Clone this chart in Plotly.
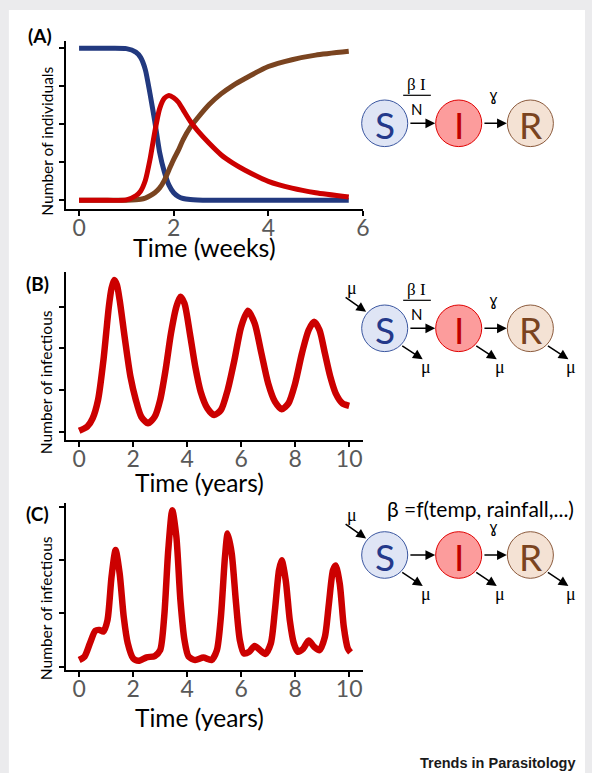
import plotly.graph_objects as go

W, H = 592, 773

# ---------------- data ----------------
a_time = [0, 0.5, 1.0, 1.2, 1.3, 1.4, 1.5, 1.6, 1.7, 1.8, 1.9, 2.0, 2.1, 2.2, 2.35, 2.5, 2.75,
          3.0, 3.25, 3.5, 4.0, 4.5, 5.0, 5.7]
a_susceptible = [1, 1, 0.998, 0.975, 0.94, 0.86, 0.70, 0.52, 0.32, 0.19, 0.10, 0.05, 0.025, 0.012,
                 0.005, 0.002, 0, 0, 0, 0, 0, 0, 0, 0]
a_infectious = [0, 0, 0.003, 0.03, 0.06, 0.13, 0.27, 0.45, 0.60, 0.67, 0.69, 0.675, 0.645, 0.595,
                0.52, 0.46, 0.375, 0.30, 0.245, 0.20, 0.125, 0.08, 0.05, 0.022]
a_recovered = [0, 0, 0, 0.003, 0.007, 0.015, 0.03, 0.05, 0.08, 0.13, 0.20, 0.27, 0.33, 0.40,
               0.48, 0.54, 0.63, 0.70, 0.755, 0.80, 0.88, 0.925, 0.955, 0.98]

b_time = [0, 0.3, 0.5, 0.7, 0.9, 1.0, 1.1, 1.2, 1.3, 1.4, 1.5, 1.7, 1.9, 2.1, 2.3, 2.55, 2.8,
          3.0, 3.2, 3.4, 3.6, 3.75, 3.9, 4.1, 4.3, 4.5, 4.75, 5.0, 5.25, 5.5, 5.75, 6.0, 6.25,
          6.5, 6.75, 7.0, 7.25, 7.5, 7.75, 8.0, 8.25, 8.5, 8.7, 8.9, 9.1, 9.3, 9.5, 9.75, 10.0]
b_infectious = [0.02, 0.12, 0.32, 0.76, 1.72, 2.36, 3.0, 3.44, 3.64, 3.52, 3.16, 2.2, 1.32, 0.76,
                0.36, 0.2, 0.36, 0.76, 1.48, 2.36, 3.0, 3.24, 3.08, 2.36, 1.56, 0.96, 0.56, 0.4,
                0.52, 1.0, 1.72, 2.52, 2.9, 2.6, 1.88, 1.16, 0.72, 0.54, 0.68, 1.16, 1.88, 2.44,
                2.64, 2.44, 1.88, 1.32, 0.92, 0.68, 0.62]

c_time = [0, 0.2, 0.4, 0.6, 0.75, 0.9, 1.05, 1.2, 1.35, 1.5, 1.65, 1.8, 2.0, 2.2, 2.5, 2.8,
          3.0, 3.15, 3.3, 3.45, 3.6, 3.75, 3.9, 4.05, 4.3, 4.6, 4.9, 5.1, 5.25, 5.4, 5.5, 5.65,
          5.8, 5.95, 6.1, 6.3, 6.5, 6.7, 6.9, 7.1, 7.25, 7.4, 7.5, 7.65, 7.8, 7.95, 8.1, 8.3,
          8.5, 8.7, 8.9, 9.1, 9.25, 9.4, 9.5, 9.65, 9.8, 9.95, 10.05]
c_infectious = [0.125, 0.19, 0.44, 0.675, 0.69, 0.66, 0.875, 1.69, 2.19, 1.75, 0.94, 0.44, 0.156,
                0.11, 0.175, 0.2, 0.31, 0.94, 2.19, 2.94, 2.44, 1.25, 0.5, 0.19, 0.125, 0.17,
                0.125, 0.31, 0.94, 2.06, 2.5, 2.125, 1.25, 0.5, 0.25, 0.28, 0.39, 0.31, 0.24, 0.44,
                1.06, 1.81, 2.0, 1.625, 0.875, 0.44, 0.28, 0.34, 0.49, 0.375, 0.31, 0.56, 1.19,
                1.81, 1.9, 1.56, 0.75, 0.34, 0.27]

a_xticks = [0, 2, 4, 6]
a_yticks = [0, 0.25, 0.5, 0.75, 1]
bc_xticks = [0, 2, 4, 6, 8, 10]
bc_yticks = [0, 1, 2, 3]

BLUE = "#22397f"
RED = "#cc0000"
BROWN = "#7a4420"
FONT = "Lato"


def X(px):
    return px / W


def Y(py):
    return 1 - py / H


fig = go.Figure()
fig.add_trace(go.Scatter(x=a_time, y=a_susceptible, mode="lines", xaxis="x", yaxis="y",
                         line=dict(color=BLUE, width=5, shape="spline", smoothing=0.6)))
fig.add_trace(go.Scatter(x=a_time, y=a_recovered, mode="lines", xaxis="x", yaxis="y",
                         line=dict(color=BROWN, width=5, shape="spline", smoothing=0.6)))
fig.add_trace(go.Scatter(x=a_time, y=a_infectious, mode="lines", xaxis="x", yaxis="y",
                         line=dict(color=RED, width=5, shape="spline", smoothing=0.6)))
fig.add_trace(go.Scatter(x=b_time, y=b_infectious, mode="lines", xaxis="x2", yaxis="y2",
                         line=dict(color=RED, width=6.5, shape="spline", smoothing=0.7)))
fig.add_trace(go.Scatter(x=c_time, y=c_infectious, mode="lines", xaxis="x3", yaxis="y3",
                         line=dict(color=RED, width=6.5, shape="spline", smoothing=0.7)))

xdom = [X(66.7), X(367.3)]
common_x = dict(domain=xdom, showline=True, linecolor="black", linewidth=2, ticks="outside",
                ticklen=5, tickwidth=1.5, tickcolor="black", showgrid=False, zeroline=False,
                ticklabelstandoff=-8,
                tickfont=dict(family=FONT, size=23, color="#595959"))
common_y = dict(showline=True, linecolor="black", linewidth=2, ticks="outside", ticklen=5,
                tickwidth=1.5, tickcolor="black", showgrid=False, zeroline=False,
                showticklabels=False)

fig.update_layout(
    xaxis=dict(common_x, anchor="y", range=[-0.278, 6], tickvals=a_xticks),
    yaxis=dict(common_y, anchor="x", domain=[Y(209), Y(40.7)], range=[-0.057, 1.05],
               tickvals=a_yticks),
    xaxis2=dict(common_x, anchor="y2", range=[-0.49, 10.51], tickvals=bc_xticks),
    yaxis2=dict(common_y, anchor="x2", domain=[Y(440), Y(271.7)], range=[-0.2, 3.84],
                tickvals=bc_yticks),
    xaxis3=dict(common_x, anchor="y3", range=[-0.49, 10.51], tickvals=bc_xticks),
    yaxis3=dict(common_y, anchor="x3", domain=[Y(670), Y(502.7)], range=[-0.0625, 3.08],
                tickvals=bc_yticks),
)

shapes = [dict(type="rect", xref="paper", yref="paper", x0=X(9), x1=1, y0=0, y1=Y(10),
               fillcolor="white", line=dict(width=0), layer="below")]
annotations = []


def text(px, py, s, size, color="black", family=FONT, angle=0, bold=False):
    if bold:
        s = "<b>" + s + "</b>"
    annotations.append(dict(x=X(px), y=Y(py), xref="paper", yref="paper", text=s,
                            showarrow=False, xanchor="center", yanchor="middle",
                            textangle=angle, font=dict(family=family, size=size, color=color)))


def arrow(x0, y0, x1, y1):
    annotations.append(dict(x=X(x1), y=Y(y1), xref="paper", yref="paper", ax=x0 - x1,
                            ay=y0 - y1, text="", showarrow=True, arrowhead=2, arrowsize=1.3,
                            arrowwidth=1.5, arrowcolor="black", standoff=0, startstandoff=0))


def circle(cx, cy, r, fill, edge):
    shapes.append(dict(type="circle", xref="paper", yref="paper", x0=X(cx - r), x1=X(cx + r),
                       y0=Y(cy + r), y1=Y(cy - r), fillcolor=fill, line=dict(color=edge, width=1)))


# panel labels and axis titles
text(40, 35, "(A)", 19, bold=True)
text(37.5, 283, "(B)", 19, bold=True)
text(37.5, 513, "(C)", 19, bold=True)
text(46.7, 141.5, "Number of individuals", 15.5, angle=-90)
text(46.7, 382, "Number of infectious", 15.5, angle=-90)
text(46.7, 608, "Number of infectious", 15.5, angle=-90)
text(206.7, 247, "Time (weeks)", 25)
text(201.7, 482, "Time (years)", 24.5)
text(201.7, 717, "Time (years)", 24.5)

# compartment diagrams
R_ = 23.3
SERIF = "Liberation Serif"


def diagram(cy, births, frac):
    sx, ix, rx = 389.3, 464.2, 536.7
    circle(sx, cy, R_, "#dfe5f5", "#3a56a0")
    circle(ix, cy, R_, "#fc9c9c", "#e00000")
    circle(rx, cy, R_, "#f4e2d4", "#8b5a3c")
    text(sx, cy + 1, "S", 37, color="#24398a")
    text(ix, cy + 1, "I", 37, color="#c00000")
    text(rx, cy + 1, "R", 37, color="#7a4420")
    arrow(sx + R_ + 1.5, cy, ix - R_ - 0.5, cy)
    arrow(ix + R_ + 1.5, cy, rx - R_ - 0.5, cy)
    text(499.5, cy - 27, "ɣ", 15, family="DejaVu Sans")
    if frac:
        text(421.5, cy - 38.5, "β I", 17, family=SERIF)
        shapes.append(dict(type="line", xref="paper", yref="paper", x0=X(408), x1=X(436),
                           y0=Y(cy - 28), y1=Y(cy - 28), line=dict(color="black", width=1.2)))
        text(421.5, cy - 14.5, "N", 15)
    if births:
        arrow(348.5, cy - 32, 370.5, cy - 16.5)
        text(356.5, cy - 40, "μ", 18, family=SERIF)
        for cx in (sx, ix, rx):
            arrow(cx + 16.5, cy + 16.5, cx + 38.5, cy + 31)
            text(cx + 41.5, cy + 39, "μ", 18, family=SERIF)


diagram(123.3, False, True)
diagram(328.3, True, True)
diagram(555, True, False)
text(486, 508.3, "β =f(temp, rainfall,...)", 21)

annotations.append(dict(x=X(585), y=Y(763), xref="paper", yref="paper",
                        text="<b>Trends in Parasitology</b>", showarrow=False,
                        xanchor="right", yanchor="middle",
                        font=dict(family="Liberation Sans", size=14.5, color="#1a1a1a")))

fig.update_layout(width=W, height=H, autosize=False, margin=dict(l=0, r=0, t=0, b=0),
                  paper_bgcolor="#ebebed", plot_bgcolor="rgba(0,0,0,0)", showlegend=False,
                  shapes=shapes, annotations=annotations)

fig.write_html("out.html", config={"displayModeBar": False},
               post_script="document.body.style.margin='0';document.body.style.overflow='hidden';")
